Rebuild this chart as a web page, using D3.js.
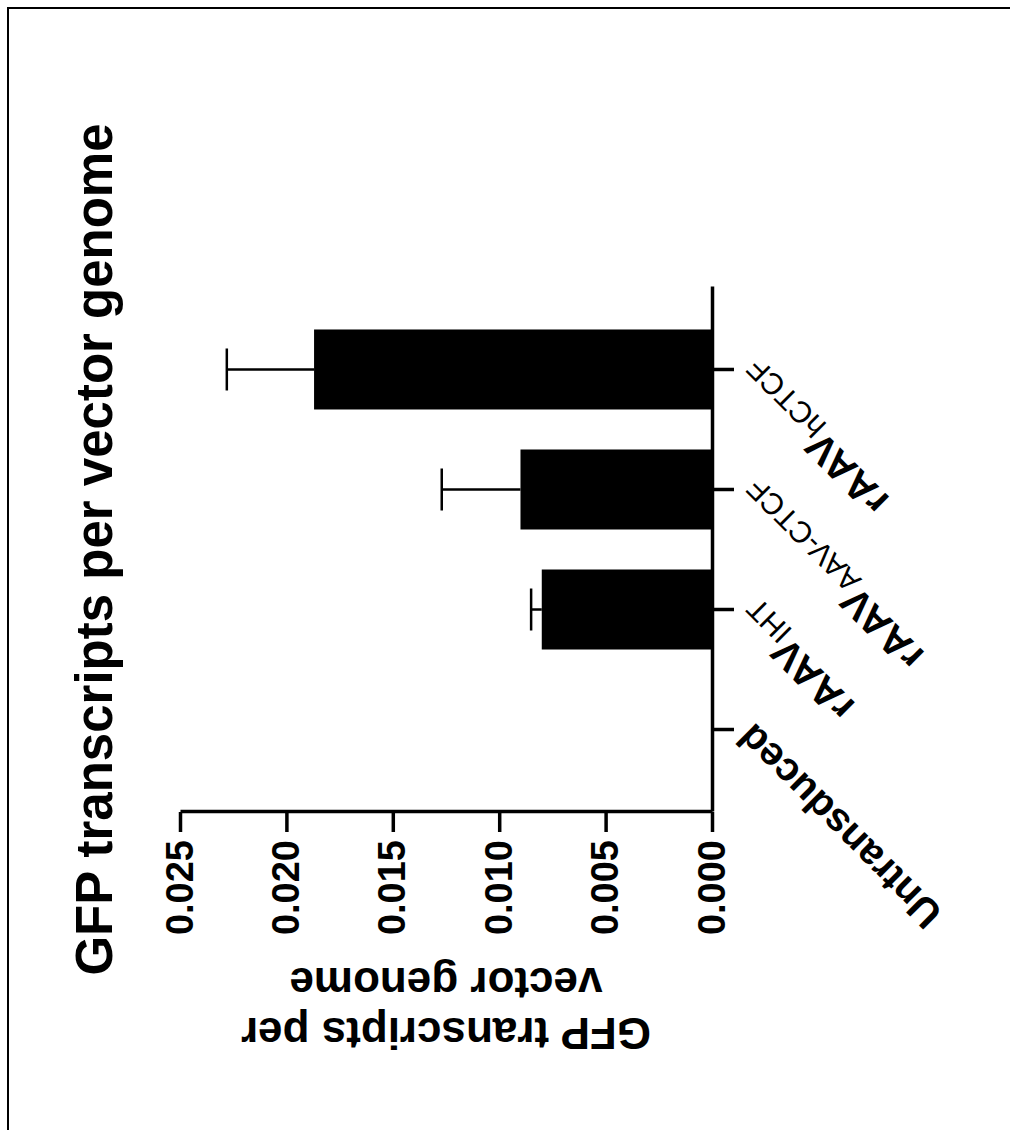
<!DOCTYPE html>
<html>
<head>
<meta charset="utf-8">
<script src="https://cdn.jsdelivr.net/npm/d3@7"></script>
<style>
  body { margin: 0; background: #fff; }
  svg text { font-family: "Liberation Sans", Arial, sans-serif; fill: #000; }
</style>
</head>
<body>
<svg id="chart" width="1010" height="1130"></svg>
<script>
// data
var categories = ["Untransduced", "rAAV-IHT", "rAAV-AAV-CTCF", "rAAV-hCTCF"];
var labelMain = ["Untransduced", "rAAV", "rAAV", "rAAV"];
var labelSub = ["", "IHT", "AAV-CTCF", "hCTCF"];
var means = [0, 0.0080, 0.0090, 0.0187];
var errors = [0, 0.0005, 0.0037, 0.0041];
var tickValues = [0, 0.005, 0.010, 0.015, 0.020, 0.025];
var title = "GFP transcripts per vector genome";
var yTitle = ["GFP transcripts per", "vector genome"];

var W = 525, H = 532;
var svg = d3.select("#chart");

// frame of the scanned page
svg.append("rect")
    .attr("x", 8).attr("y", 8)
    .attr("width", 1100).attr("height", 1200)
    .attr("fill", "none")
    .attr("stroke", "#000")
    .attr("stroke-width", 2);

// whole chart is drawn upright and turned a quarter turn
var g = svg.append("g")
    .attr("transform", "translate(180,812) rotate(-90)");

var x = d3.scaleBand()
    .domain(categories)
    .range([0, W])
    .paddingInner(1 / 3)
    .paddingOuter(0.354);

var y = d3.scaleLinear()
    .domain([0, 0.025])
    .range([H, 0]);

var rows = categories.map(function(c, i) {
  return { key: c, main: labelMain[i], sub: labelSub[i], mean: means[i], err: errors[i] };
});

// bars
g.selectAll(".bar")
    .data(rows)
  .enter().append("rect")
    .attr("class", "bar")
    .attr("x", d => x(d.key))
    .attr("width", x.bandwidth())
    .attr("y", d => y(d.mean))
    .attr("height", d => H - y(d.mean))
    .attr("fill", "#000");

// error bars (upper only)
var eb = g.selectAll(".err")
    .data(rows.filter(d => d.err > 0))
  .enter().append("g")
    .attr("class", "err")
    .attr("stroke", "#000")
    .attr("stroke-width", 2.5);
eb.append("line")
    .attr("x1", d => x(d.key) + x.bandwidth() / 2)
    .attr("x2", d => x(d.key) + x.bandwidth() / 2)
    .attr("y1", d => y(d.mean))
    .attr("y2", d => y(d.mean + d.err));
eb.append("line")
    .attr("x1", d => x(d.key) + x.bandwidth() / 2 - 21)
    .attr("x2", d => x(d.key) + x.bandwidth() / 2 + 21)
    .attr("y1", d => y(d.mean + d.err))
    .attr("y2", d => y(d.mean + d.err));

// value axis
var yAxis = g.append("g")
    .call(d3.axisLeft(y)
      .tickValues(tickValues)
      .tickFormat(d3.format(".3f"))
      .tickSize(20)
      .tickSizeOuter(0)
      .tickPadding(8));
yAxis.selectAll("text")
    .style("font-size", "38px")
    .style("font-weight", "bold")
    .attr("font-family", null);

// category axis
var xAxis = g.append("g")
    .attr("transform", "translate(0," + H + ")")
    .call(d3.axisBottom(x)
      .tickSize(22)
      .tickSizeOuter(0)
      .tickFormat(""));

g.selectAll(".domain, .tick line")
    .attr("stroke", "#000")
    .attr("stroke-width", 3.5);

var lab = g.selectAll(".cat-label")
    .data(rows)
  .enter().append("text")
    .attr("class", "cat-label")
    .attr("transform", d => "translate(" + (x(d.key) + x.bandwidth() / 2 + 4) + "," + (H + 38) + ") rotate(-45)")
    .attr("text-anchor", "end")
    .attr("dy", "0.35em");
lab.append("tspan")
    .style("font-size", "40px")
    .style("font-weight", "bold")
    .text(d => d.main);
lab.append("tspan")
    .style("font-size", "30px")
    .attr("dy", "0.25em")
    .text(d => d.sub);

// value axis title
g.selectAll(".y-title")
    .data(yTitle)
  .enter().append("text")
    .attr("class", "y-title")
    .attr("transform", (d, i) => "translate(" + (-206 + i * 50) + "," + (H / 2) + ") rotate(-90)")
    .attr("text-anchor", "middle")
    .style("font-size", "44px")
    .style("font-weight", "bold")
    .text(d => d);

// chart title
g.append("text")
    .attr("x", W / 2)
    .attr("y", -68)
    .attr("text-anchor", "middle")
    .style("font-size", "51px")
    .style("font-weight", "bold")
    .text(title);
</script>
</body>
</html>
